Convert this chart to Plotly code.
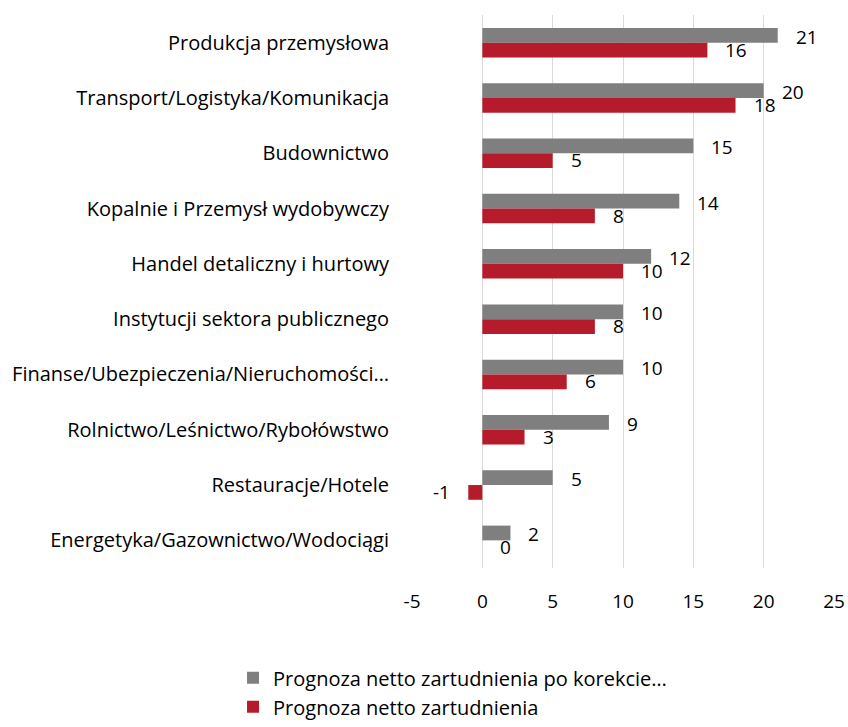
import plotly.graph_objects as go

categories = [
    "Produkcja przemysłowa",
    "Transport/Logistyka/Komunikacja",
    "Budownictwo",
    "Kopalnie i Przemysł wydobywczy",
    "Handel detaliczny i hurtowy",
    "Instytucji sektora publicznego",
    "Finanse/Ubezpieczenia/Nieruchomości…",
    "Rolnictwo/Leśnictwo/Rybołówstwo",
    "Restauracje/Hotele",
    "Energetyka/Gazownictwo/Wodociągi",
]
adjusted = [21, 20, 15, 14, 12, 10, 10, 9, 5, 2]
raw = [16, 18, 5, 8, 10, 8, 6, 3, -1, 0]
series_names = ["Prognoza netto zartudnienia po korekcie…", "Prognoza netto zartudnienia"]
tick_vals = [-5, 0, 5, 10, 15, 20, 25]
tick_text = ["-5", "0", "5", "10", "15", "20", "25"]

GRAY = "#7f7f7f"
RED = "#b61b2b"
FONT = "Open Sans"
FS_TEXT = 20
FS_NUM = 19

fig = go.Figure()
fig.add_trace(go.Bar(y=categories, x=adjusted, orientation="h", name=series_names[0],
                     marker=dict(color=GRAY, line=dict(width=0))))
fig.add_trace(go.Bar(y=categories, x=raw, orientation="h", name=series_names[1],
                     marker=dict(color=RED, line=dict(width=0))))

annotations = []
for series, yshift in ((adjusted, -6), (raw, 7)):
    for cat, v in zip(categories, series):
        neg = v < 0
        annotations.append(dict(
            x=v, y=cat, xref="x", yref="y", text=str(v), showarrow=False,
            xanchor="right" if neg else "left", xshift=-16 if neg else 16,
            yshift=-yshift, font=dict(family=FONT, size=FS_NUM, color="#000000"),
        ))

fig.update_layout(
    width=848, height=727,
    margin=dict(l=412, r=14, t=15, b=159, autoexpand=False),
    paper_bgcolor="white", plot_bgcolor="white",
    barmode="group", bargap=0.467, bargroupgap=0,
    font=dict(family=FONT, size=FS_TEXT, color="#000000"),
    annotations=annotations,
    xaxis=dict(range=[-5, 25], tickvals=tick_vals, ticktext=tick_text, showgrid=True,
               gridcolor="#d9d9d9", gridwidth=1.3, zeroline=False, showline=False,
               ticks="outside", ticklen=16, tickcolor="rgba(0,0,0,0)",
               tickfont=dict(family=FONT, size=FS_NUM, color="#000000")),
    yaxis=dict(autorange="reversed", showgrid=False, zeroline=False, showline=False,
               ticks="outside", ticklen=18, tickcolor="rgba(0,0,0,0)",
               tickfont=dict(family=FONT, size=FS_TEXT, color="#000000")),
    legend=dict(orientation="v", xref="container", yref="container",
                x=0.2748, xanchor="left", y=0.0945, yanchor="top",
                font=dict(family=FONT, size=FS_TEXT, color="#000000"), traceorder="normal",
                bgcolor="rgba(0,0,0,0)"),
    showlegend=True,
)

fig.write_html("out.html", config={"displayModeBar": False},
               post_script="document.body.style.margin='0';")
